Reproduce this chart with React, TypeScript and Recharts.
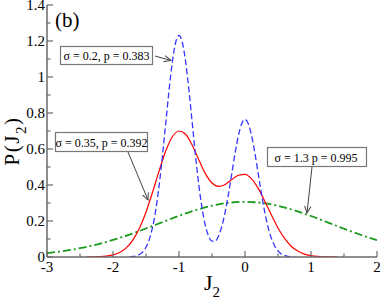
import React from 'react';
import { LineChart, Line, XAxis, YAxis } from 'recharts';

// sigma = 0.2, p = 0.383 (blue dashed)
const blueX = [-1.75, -1.7, -1.65, -1.6, -1.55, -1.5, -1.45, -1.4, -1.35, -1.3, -1.25, -1.2, -1.15, -1.1, -1.05, -1, -0.95, -0.9, -0.85, -0.8, -0.75, -0.7, -0.65, -0.6, -0.55, -0.5, -0.45, -0.4, -0.35, -0.3, -0.25, -0.2, -0.15, -0.1, -0.05, 0, 0.05, 0.1, 0.15, 0.2, 0.25, 0.3, 0.35, 0.4, 0.45, 0.5, 0.55, 0.6, 0.65, 0.7, 0.75];
const blueY = [0.001, 0.003, 0.006, 0.014, 0.028, 0.054, 0.098, 0.167, 0.266, 0.4, 0.563, 0.746, 0.929, 1.086, 1.193, 1.231, 1.193, 1.086, 0.929, 0.747, 0.564, 0.401, 0.27, 0.175, 0.115, 0.088, 0.089, 0.117, 0.172, 0.251, 0.351, 0.464, 0.577, 0.674, 0.74, 0.764, 0.74, 0.674, 0.577, 0.463, 0.35, 0.248, 0.165, 0.103, 0.061, 0.034, 0.017, 0.0085, 0.0039, 0.0017, 0.0007];

// sigma = 0.35, p = 0.392 (red solid)
const redX = [-2.4, -2.3, -2.2, -2.1, -2, -1.9, -1.8, -1.7, -1.6, -1.5, -1.4, -1.3, -1.2, -1.1, -1, -0.9, -0.8, -0.7, -0.6, -0.5, -0.4, -0.3, -0.2, -0.1, 0, 0.1, 0.2, 0.3, 0.4, 0.5, 0.6, 0.7, 0.8, 0.9, 1, 1.1, 1.2, 1.3, 1.4];
const redY = [0.0002, 0.0007, 0.0019, 0.005, 0.0117, 0.0254, 0.0509, 0.0938, 0.1595, 0.25, 0.361, 0.48, 0.59, 0.668, 0.7, 0.682, 0.621, 0.54, 0.463, 0.411, 0.392, 0.403, 0.43, 0.454, 0.459, 0.434, 0.381, 0.31, 0.233, 0.161, 0.103, 0.06, 0.033, 0.016, 0.0075, 0.0032, 0.0013, 0.0005, 0.00015];

// sigma = 1.3, p = 0.995 (green dash-dot)
const greenX = [-3, -2.75, -2.5, -2.25, -2, -1.75, -1.5, -1.25, -1, -0.75, -0.5, -0.25, 0, 0.25, 0.5, 0.75, 1, 1.25, 1.5, 1.75, 2];
const greenY = [0.0218, 0.0332, 0.0488, 0.0692, 0.0946, 0.1247, 0.1583, 0.1938, 0.2287, 0.2601, 0.285, 0.3011, 0.3065, 0.3007, 0.2844, 0.2592, 0.2277, 0.1926, 0.1571, 0.1236, 0.0936];

const xMajorTicks = [-3, -2, -1, 0, 1, 2];
const xMinorTicks = [-2.5, -1.5, -0.5, 0.5, 1.5];
const yMajorTicks = [0, 0.2, 0.4, 0.6, 0.8, 1, 1.2, 1.4];
const yMinorTicks = [0.1, 0.3, 0.5, 0.7, 0.9, 1.1, 1.3];

const blueData = blueX.map((x, i) => ({ x, y: blueY[i] }));
const redData = redX.map((x, i) => ({ x, y: redY[i] }));
const greenData = greenX.map((x, i) => ({ x, y: greenY[i] }));
const xTicks = [...xMajorTicks, ...xMinorTicks].sort((a, b) => a - b);
const yTicks = [...yMajorTicks, ...yMinorTicks].sort((a, b) => a - b);

const FONT = "'Liberation Serif', serif";
const TXT = { fontFamily: FONT } as React.CSSProperties;
const AXIS = '#6a6a6a';
const MAJOR = 6;
const MINOR = 3.5;

const isMajor = (v: number, list: number[]) => list.some((m) => Math.abs(m - v) < 1e-9);

const BottomTick = (props: any) => {
  const { x, y, payload } = props;
  const major = isMajor(payload.value, xMajorTicks);
  return (
    <g>
      <line x1={x} x2={x} y1={y} y2={y - (major ? MAJOR : MINOR)} stroke={AXIS} strokeWidth={1.2} />
      {major && (
        <text x={x} y={y + 15} textAnchor="middle" fontSize={15} style={TXT} fill="#000">
          {String(payload.value)}
        </text>
      )}
    </g>
  );
};

const TopTick = (props: any) => {
  const { x, y, payload } = props;
  const major = isMajor(payload.value, xMajorTicks);
  return <line x1={x} x2={x} y1={y} y2={y + (major ? MAJOR : MINOR)} stroke={AXIS} strokeWidth={1.2} />;
};

const LeftTick = (props: any) => {
  const { x, y, payload } = props;
  const major = isMajor(payload.value, yMajorTicks);
  return (
    <g>
      <line x1={x} x2={x + (major ? MAJOR : MINOR)} y1={y} y2={y} stroke={AXIS} strokeWidth={1.2} />
      {major && (
        <text x={x - 2} y={y + 4.5} textAnchor="end" fontSize={15} style={TXT} fill="#000">
          {String(payload.value)}
        </text>
      )}
    </g>
  );
};

const RightTick = (props: any) => {
  const { x, y, payload } = props;
  const major = isMajor(payload.value, yMajorTicks);
  return <line x1={x} x2={x - (major ? MAJOR : MINOR)} y1={y} y2={y} stroke={AXIS} strokeWidth={1.2} />;
};

const Annotations = () => (
  <svg width={382} height={300} style={{ position: 'absolute', left: 0, top: 0, pointerEvents: 'none' }}>
    <defs>
      <marker id="ah" markerWidth={8} markerHeight={8} refX={7} refY={4} orient="auto" markerUnits="userSpaceOnUse">
        <path d="M0,0.8 L7,4 L0,7.2" fill="none" stroke="#444" strokeWidth={1} />
      </marker>
    </defs>
    <text x={55} y={27} fontSize={21} style={TXT} fill="#000">(b)</text>

    <rect x={60.5} y={46.5} width={92} height={18} fill="#fff" stroke="#777" strokeWidth={1.2} />
    <text x={106.5} y={60} textAnchor="middle" fontSize={12} style={TXT} fill="#000">σ = 0.2, p = 0.383</text>
    <line x1={155} y1={56} x2={171} y2={60.5} stroke="#444" strokeWidth={1} markerEnd="url(#ah)" />

    <rect x={55.5} y={132.5} width={92} height={19} fill="#fff" stroke="#777" strokeWidth={1.2} />
    <text x={101.5} y={146.5} textAnchor="middle" fontSize={12} style={TXT} fill="#000">σ = 0.35, p = 0.392</text>
    <line x1={128} y1={152} x2={148} y2={200} stroke="#444" strokeWidth={1} markerEnd="url(#ah)" />

    <rect x={267.5} y={147.5} width={99} height={19} fill="#fff" stroke="#777" strokeWidth={1.2} />
    <text x={316} y={161.5} textAnchor="middle" fontSize={12} style={TXT} fill="#000">σ = 1.3 p = 0.995</text>
    <line x1={312} y1={167} x2={307} y2={213} stroke="#444" strokeWidth={1} markerEnd="url(#ah)" />

    <text x={212} y={290} textAnchor="middle" fontSize={22} style={TXT} fill="#000">
      J<tspan fontSize={15} dy={7}>2</tspan>
    </text>
    <text transform="translate(19,141) rotate(-90)" textAnchor="middle" fontSize={21} style={TXT} fill="#000" letterSpacing={1.5}>
      P(J<tspan fontSize={15} dy={7}>2</tspan><tspan dy={-7}>)</tspan>
    </text>
  </svg>
);

export default function App() {
  return (
    <div style={{ position: 'absolute', left: 0, top: 0, width: 382, height: 300, background: '#fff' }}>
      <LineChart width={382} height={300} margin={{ top: 5, right: 5, bottom: 0, left: 0 }}>
        <XAxis
          xAxisId="b"
          type="number"
          dataKey="x"
          domain={[-3, 2]}
          ticks={xTicks}
          interval={0}
          height={43}
          tickSize={0}
          tickMargin={0}
          tickLine={false}
          tick={BottomTick}
          axisLine={{ stroke: AXIS, strokeWidth: 1.5 }}
          allowDataOverflow
        />
        <XAxis
          xAxisId="t"
          orientation="top"
          type="number"
          dataKey="x"
          domain={[-3, 2]}
          ticks={xTicks}
          interval={0}
          height={0}
          tickSize={0}
          tickMargin={0}
          tickLine={false}
          tick={TopTick}
          axisLine={{ stroke: AXIS, strokeWidth: 1.5 }}
          allowDataOverflow
        />
        <YAxis
          yAxisId="l"
          type="number"
          domain={[0, 1.4]}
          ticks={yTicks}
          interval={0}
          width={47}
          tickSize={0}
          tickMargin={0}
          tickLine={false}
          tick={LeftTick}
          axisLine={{ stroke: AXIS, strokeWidth: 1.5 }}
          allowDataOverflow
        />
        <YAxis
          yAxisId="r"
          orientation="right"
          type="number"
          domain={[0, 1.4]}
          ticks={yTicks}
          interval={0}
          width={0}
          tickSize={0}
          tickMargin={0}
          tickLine={false}
          tick={RightTick}
          axisLine={{ stroke: AXIS, strokeWidth: 1.5 }}
          allowDataOverflow
        />
        <Line
          xAxisId="b"
          yAxisId="l"
          data={greenData}
          dataKey="y"
          type="monotone"
          stroke="#1a9a1a"
          strokeWidth={1.8}
          strokeDasharray="8 3 2 3"
          dot={false}
          isAnimationActive={false}
        />
        <Line
          xAxisId="b"
          yAxisId="l"
          data={redData}
          dataKey="y"
          type="monotone"
          stroke="#ff0000"
          strokeWidth={1.2}
          dot={false}
          isAnimationActive={false}
        />
        <Line
          xAxisId="b"
          yAxisId="l"
          data={blueData}
          dataKey="y"
          type="monotone"
          stroke="#3535ff"
          strokeWidth={1.3}
          strokeDasharray="6 3"
          dot={false}
          isAnimationActive={false}
        />
      </LineChart>
      <Annotations />
    </div>
  );
}
